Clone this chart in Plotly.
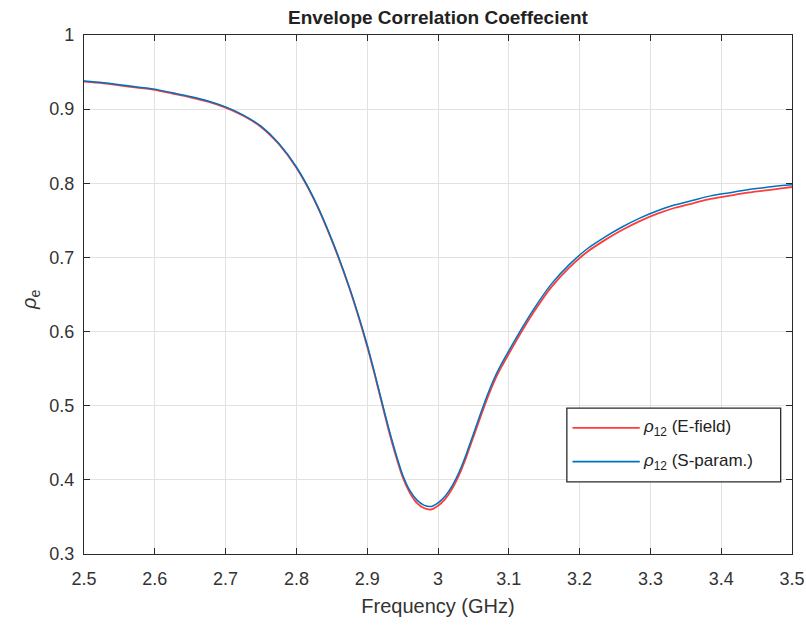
import plotly.graph_objects as go

freq = [2.5, 2.525, 2.55, 2.575, 2.6, 2.625, 2.65, 2.675, 2.7, 2.725, 2.75, 2.775, 2.8, 2.825,
        2.85, 2.875, 2.9, 2.91, 2.92, 2.93, 2.94, 2.95, 2.96, 2.97, 2.98, 2.99, 3.0, 3.01,
        3.02, 3.03, 3.04, 3.05, 3.06, 3.07, 3.08, 3.09, 3.1, 3.115, 3.135, 3.16, 3.185, 3.21,
        3.235, 3.26, 3.285, 3.31, 3.335, 3.36, 3.385, 3.41, 3.435, 3.46, 3.485, 3.5]
rho_s = [0.938, 0.936, 0.933, 0.930, 0.927, 0.922, 0.917, 0.911, 0.903, 0.892, 0.877, 0.854,
         0.822, 0.779, 0.724, 0.659, 0.582, 0.546, 0.508, 0.471, 0.437, 0.407, 0.386, 0.373,
         0.366, 0.364, 0.369, 0.378, 0.392, 0.411, 0.435, 0.462, 0.489, 0.515, 0.538, 0.557,
         0.574, 0.599, 0.630, 0.664, 0.690, 0.711, 0.727, 0.741, 0.753, 0.763, 0.771, 0.777,
         0.783, 0.787, 0.791, 0.794, 0.797, 0.798]
rho_e = [0.937, 0.935, 0.932, 0.929, 0.926, 0.921, 0.916, 0.910, 0.902, 0.891, 0.876, 0.853,
         0.821, 0.778, 0.723, 0.658, 0.580, 0.544, 0.506, 0.468, 0.434, 0.404, 0.383, 0.369,
         0.362, 0.360, 0.365, 0.374, 0.388, 0.407, 0.431, 0.458, 0.485, 0.511, 0.534, 0.553,
         0.570, 0.595, 0.626, 0.660, 0.686, 0.707, 0.723, 0.737, 0.749, 0.759, 0.767, 0.773,
         0.779, 0.783, 0.787, 0.790, 0.793, 0.795]

RED = "rgb(255,60,60)"
BLUE = "#0072BD"
FONT = "Liberation Sans, Arial"

fig = go.Figure()
fig.add_trace(go.Scatter(x=freq, y=rho_e, mode="lines",
                         line=dict(color=RED, width=1.8, shape="spline", smoothing=0.6),
                         name="ρ<sub>12</sub> (E-field)", showlegend=False))
fig.add_trace(go.Scatter(x=freq, y=rho_s, mode="lines",
                         line=dict(color=BLUE, width=1.5, shape="spline", smoothing=0.6),
                         name="ρ<sub>12</sub> (S-param.)", showlegend=False))

axis_common = dict(showline=True, linecolor="#2a2a2a", linewidth=1.3, mirror="ticks", ticks="inside",
                   ticklen=6, tickcolor="#2a2a2a", showgrid=True, gridcolor="#e2e2e2", gridwidth=1,
                   zeroline=False, automargin=False,
                   tickfont=dict(family=FONT, size=18, color="#333333"))
fig.update_xaxes(range=[2.5, 3.5], tickvals=[2.5, 2.6, 2.7, 2.8, 2.9, 3.0, 3.1, 3.2, 3.3, 3.4, 3.5],
                 ticktext=["2.5", "2.6", "2.7", "2.8", "2.9", "3", "3.1", "3.2", "3.3", "3.4", "3.5"],
                 ticklabelstandoff=8, **axis_common,
                 title=dict(text="Frequency (GHz)", font=dict(family=FONT, size=20, color="#333333"), standoff=11))
fig.update_yaxes(range=[0.3, 1.0], tickvals=[0.3, 0.4, 0.5, 0.6, 0.7, 0.8, 0.9, 1.0],
                 ticktext=["0.3", "0.4", "0.5", "0.6", "0.7", "0.8", "0.9", "1"],
                 ticklabelstandoff=5, **axis_common)

# manual legend (MATLAB style box)
lx0, lx1, ly0, ly1 = 0.682, 0.984, 0.139, 0.281
shapes = [dict(type="rect", xref="paper", yref="paper", x0=lx0, x1=lx1, y0=ly0, y1=ly1,
               line=dict(color="#2a2a2a", width=1.3), fillcolor="white", layer="above")]
items = [(RED, "<i>ρ</i><sub>12</sub> (E-field)", 0.243), (BLUE, "<i>ρ</i><sub>12</sub> (S-param.)", 0.178)]
annotations = []
for col, txt, yy in items:
    shapes.append(dict(type="line", xref="paper", yref="paper", x0=0.690, x1=0.785, y0=yy, y1=yy,
                       line=dict(color=col, width=1.8), layer="above"))
    annotations.append(dict(xref="paper", yref="paper", x=0.787, y=yy, xanchor="left", yanchor="middle",
                            text=txt, showarrow=False, font=dict(family=FONT, size=17, color="#222222")))
# y-axis label, rotated
annotations.append(dict(xref="paper", yref="paper", x=-0.076, y=0.49, xanchor="center", yanchor="middle",
                        text="<i>ρ</i><sub>e</sub>", textangle=-90, showarrow=False,
                        font=dict(family=FONT, size=20, color="#333333")))

fig.update_layout(
    width=806, height=626,
    margin=dict(l=84, r=14, t=35, b=72),
    paper_bgcolor="white", plot_bgcolor="white",
    title=dict(text="<b>Envelope Correlation Coeffecient</b>", x=0.5, xref="paper", y=0.972, yanchor="middle",
               font=dict(family=FONT, size=19, color="#222222")),
    shapes=shapes, annotations=annotations,
    showlegend=False,
)
fig.write_html("out.html")
